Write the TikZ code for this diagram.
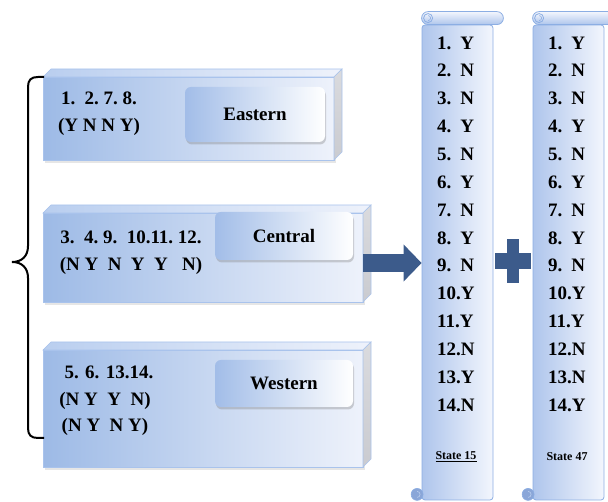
\documentclass[tikz,border=0pt]{standalone}
\usepackage{fontspec}
\setmainfont{Liberation Serif}
\usepackage{xcolor}
\usepackage{tikz}
\usetikzlibrary{calc,arrows.meta,shadows}

\definecolor{boxblue}{HTML}{9DBAE6}
\definecolor{boxwhite}{HTML}{EEF2FB}
\definecolor{edgeblue}{HTML}{A9C3EC}
\definecolor{topblue}{HTML}{B9CEEF}
\definecolor{sidegray}{HTML}{CACBD0}
\definecolor{labelblue}{HTML}{A2BDE8}
\definecolor{scrollblue}{HTML}{AEC5EC}
\definecolor{scrollwhite}{HTML}{F3F6FD}
\definecolor{scrolledge}{HTML}{8CAEE3}
\definecolor{curlblue}{HTML}{8AA6D8}
\definecolor{arrowblue}{HTML}{3C5B8B}

\begin{document}
\begin{tikzpicture}[
    x=1pt, y=1pt,
    font=\fontsize{19}{26.5}\selectfont\bfseries,
    frontbox/.style = {
        draw=edgeblue,
        line width=0.6pt,
        left color=boxblue,
        right color=boxwhite,
        inner sep=0pt,
        outer sep=0pt,
        drop shadow={opacity=0.2, shadow xshift=2pt, shadow yshift=-3pt}
    },
    topface/.style = {draw=edgeblue, line width=0.6pt, left color=topblue, right color=boxwhite},
    sideface/.style = {draw=edgeblue, line width=0.6pt, top color=sidegray!70, bottom color=sidegray},
    regionlabel/.style = {
        rounded corners=6pt,
        left color=labelblue,
        right color=white,
        minimum width=138pt,
        drop shadow={opacity=0.35, shadow xshift=1pt, shadow yshift=-2.5pt}
    },
    codetext/.style = {align=center, inner sep=0pt},
    scrollbody/.style = {
        draw=scrolledge,
        line width=0.8pt,
        left color=scrollblue,
        right color=scrollwhite,
        rounded corners=3pt,
        minimum width=71pt,
        minimum height=475pt,
        inner sep=0pt
    },
    scrollroll/.style = {draw=scrolledge, line width=0.8pt, top color=scrollwhite, bottom color=scrollblue},
    curl/.style = {draw=scrolledge, line width=0.6pt, fill=curlblue},
    entry/.style = {anchor=west, inner sep=0pt},
    statelabel/.style = {font=\fontsize{12}{14}\selectfont\bfseries},
    bigarrow/.style = {draw=arrowblue, line width=18pt, -{Triangle[length=18pt, width=36pt]}}
]
\useasboundingbox (0,0) rectangle (608,502);

% --- Regions ---
\node[frontbox, minimum width=291pt, minimum height=83pt] (eastBox) at (188.5,383.5) {};
\node[frontbox, minimum width=320pt, minimum height=89pt] (centralBox) at (203,244.5) {};
\node[frontbox, minimum width=320pt, minimum height=117pt] (westBox) at (203,93.5) {};

\foreach \b in {eastBox, centralBox, westBox} {
    \draw[topface] (\b.north west) -- ++(8,8) -- ($(\b.north east)+(8,8)$) -- (\b.north east) -- cycle;
    \draw[sideface] (\b.north east) -- ++(8,8) -- ($(\b.south east)+(8,8)$) -- (\b.south east) -- cycle;
}

\node[regionlabel, minimum width=140pt, minimum height=55pt] (eastLabel) at (255,387.5) {Eastern};
\node[regionlabel, minimum height=48pt] (centralLabel) at (284,266) {Central};
\node[regionlabel, minimum height=47pt] (westLabel) at (284,118.5) {Western};

\node[codetext] (eastCode) at (99,388.5) {1.~~2.~7.~8.\\(Y N N Y)};
\node[codetext] (centralCode) at (131,249.5) {3.~~4.~9.~~10.11.~12.\\(N Y~ N~ Y~ Y~~ N)};
\node[codetext] (westCode) at (105,101) {\hspace*{8pt}5. 6. 13.14.\\(N Y~ Y~ N)\\(N Y~ N Y)};

% --- Accolade ---
\draw[line width=2pt] (44,425) -- (38,425) .. controls (31,425) and (28,422) .. (28,415)
    -- (28,256) .. controls (28,246) and (22,240) .. (12,240)
    .. controls (22,240) and (28,234) .. (28,224)
    -- (28,74) .. controls (28,67) and (31,64) .. (38,64) -- (44,64);

% --- Rouleaux ---
\node[scrollbody] (scrollA) at (457.5,239.5) {};
\node[scrollbody] (scrollB) at (568.5,239.5) {};

\foreach \s in {scrollA, scrollB} {
    \draw[scrollroll, rounded corners=6.5pt] (\s.north west) rectangle ($(\s.north east)+(10,13)$);
    \draw[scrollroll] ($(\s.north west)+(6.5,6.5)$) circle (4.5pt);
    \draw[scrolledge, line width=0.6pt] ($(\s.north west)+(6.5,4)$) arc (-90:90:2.5pt);
    \draw[curl] ($(\s.south west)+(-4.5,6)$) circle (6pt);
    \draw[scrolledge!60!white, line width=0.6pt] ($(\s.south west)+(-4.5,3)$) arc (-90:90:3pt);
}

\foreach \v [count=\i] in {Y,N,N,Y,N,Y,N,Y,N,Y,Y,N,Y,N}
    \node[entry] (entA\i) at (437,{459-(\i-1)*27.85}) {\ifnum\i<10 \i.\hspace{9pt}\v\else\i.\v\fi};

\foreach \v [count=\i] in {Y,N,N,Y,N,Y,N,Y,N,Y,Y,N,N,Y}
    \node[entry] (entB\i) at (548,{459-(\i-1)*27.85}) {\ifnum\i<10 \i.\hspace{9pt}\v\else\i.\v\fi};

\node[statelabel] (stateA) at (456,45) {\underline{State 15}};
\node[statelabel] (stateB) at (567,45) {State 47};

% --- Fleche et plus ---
\coordinate (arrowStart) at ([yshift=-5.5pt]centralBox.east);
\draw[bigarrow] (arrowStart) -- (arrowStart -| scrollA.west);

\coordinate (plusC) at ($(scrollA.east)!0.5!(scrollB.west)+(0,1.5)$);
\fill[arrowblue] ($(plusC)+(-6,-22)$) rectangle ($(plusC)+(6,22)$);
\fill[arrowblue] ($(plusC)+(-18,-8)$) rectangle ($(plusC)+(18,8)$);

\end{tikzpicture}
\end{document}
